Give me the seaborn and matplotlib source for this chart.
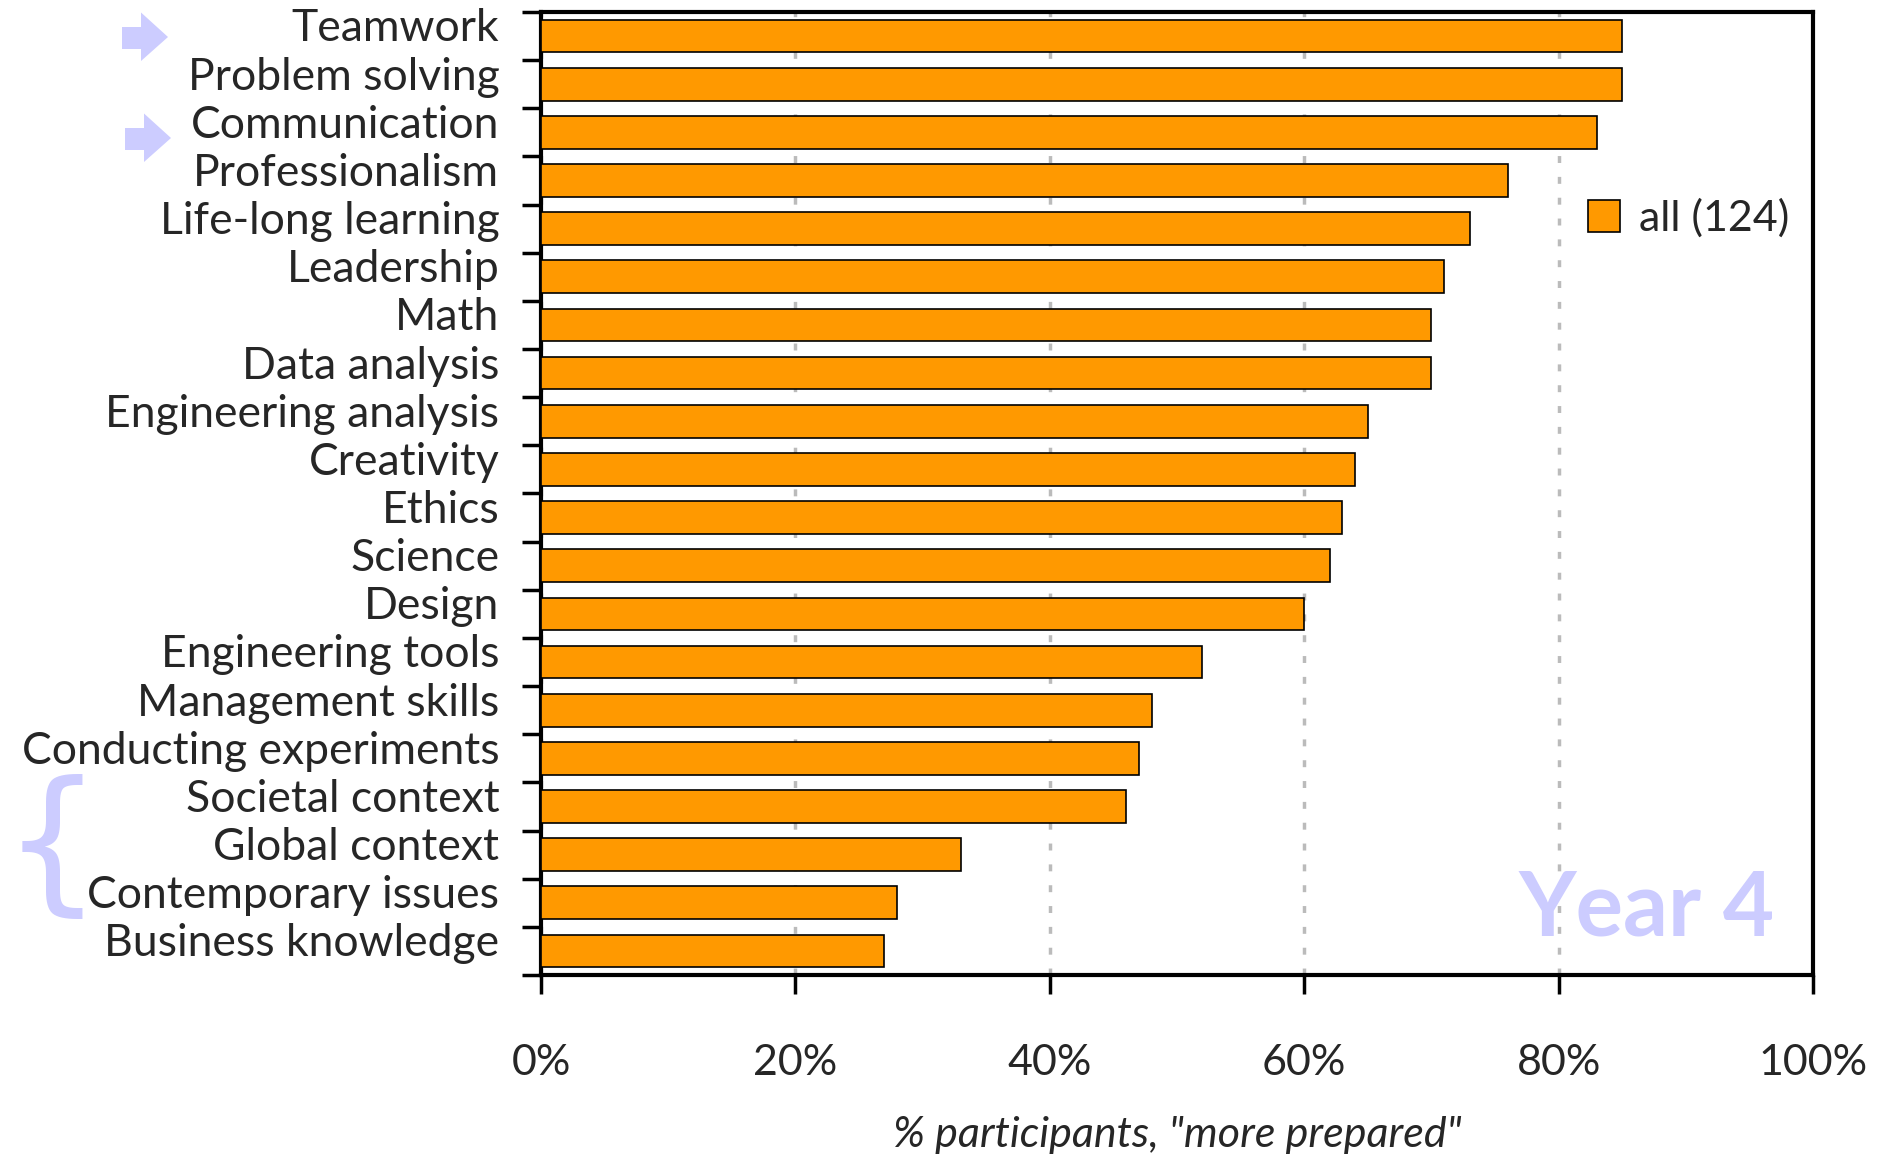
import matplotlib
matplotlib.use("Agg")
import matplotlib.pyplot as plt
import matplotlib.transforms as mtransforms
from matplotlib.patches import Polygon
import pandas as pd
import seaborn as sns

# values (% participants, "more prepared")
SKILLS = [
    "Teamwork", "Problem solving", "Communication", "Professionalism",
    "Life-long learning", "Leadership", "Math", "Data analysis",
    "Engineering analysis", "Creativity", "Ethics", "Science", "Design",
    "Engineering tools", "Management skills", "Conducting experiments",
    "Societal context", "Global context", "Contemporary issues",
    "Business knowledge",
]
PCT_MORE_PREPARED = [85, 85, 83, 76, 73, 71, 70, 70, 65, 64, 63, 62, 60,
                     52, 48, 47, 46, 33, 28, 27]
GROUP_LABEL = "all (124)"
X_TICKS = [0, 20, 40, 60, 80, 100]
X_TICK_LABELS = ["0%", "20%", "40%", "60%", "80%", "100%"]

BAR_COLOR = "#FF9900"
ACCENT = "#CCCCFF"

W, H = 1877, 1158

sns.set_style("white")
plt.rcParams["font.family"] = ["Lato", "DejaVu Sans"]

df = pd.DataFrame({"skill": SKILLS, "pct": PCT_MORE_PREPARED,
                   "group": GROUP_LABEL})

fig = plt.figure(figsize=(W / 100, H / 100), dpi=100)
ax = fig.add_axes([541 / W, 1 - 975 / H, 1272 / W, 963 / H])

sns.barplot(data=df, x="pct", y="skill", hue="group", orient="h",
            palette=[BAR_COLOR], saturation=1, edgecolor="black",
            linewidth=1.2, width=0.68, ax=ax, zorder=3)

ax.set_xlim(0, 100)
ax.set_ylim(len(SKILLS) - 0.5, -0.5)

# dashed vertical gridlines
ax.set_axisbelow(True)
ax.xaxis.grid(True, linestyle=(0, (2, 4)), color="#BBBBBB", linewidth=2.5)
ax.yaxis.grid(False)

for side in ["left", "right", "top", "bottom"]:
    ax.spines[side].set_visible(True)
    ax.spines[side].set_color("black")
    ax.spines[side].set_linewidth(3)

# x ticks
ax.set_xticks(X_TICKS)
ax.set_xticklabels(X_TICK_LABELS, fontsize=31)
ax.tick_params(axis="x", direction="out", length=14, width=2.5, pad=36,
               bottom=True, color="black")

# y ticks: labels at centres, tick marks at category boundaries
ax.set_yticks(range(len(SKILLS)))
ax.set_yticklabels(SKILLS, fontsize=32)
ax.set_yticks([i - 0.5 for i in range(len(SKILLS) + 1)], minor=True)
ax.tick_params(axis="y", which="major", length=0, pad=30)
ax.tick_params(axis="y", which="minor", direction="out", length=14,
               width=2.5, left=True, color="black")
shift_up = mtransforms.ScaledTranslation(0, 8 / 72, fig.dpi_scale_trans)
for lab in ax.get_yticklabels():
    lab.set_transform(lab.get_transform() + shift_up)

ax.set_ylabel("")
ax.set_xlabel('% participants, "more prepared"', fontsize=31,
              fontstyle="italic", labelpad=24)

# legend
handles, labels = ax.get_legend_handles_labels()
ax.legend(handles, labels, loc="center left", bbox_to_anchor=(0.806, 0.786),
          frameon=False, fontsize=31, handlelength=0.75, handleheight=0.75,
          handletextpad=0.45, borderpad=0)

# watermark
ax.text(0.970, 0.0415, "Year 4", transform=ax.transAxes, ha="right",
        va="baseline", fontsize=64, fontweight="bold", color=ACCENT)

# arrows next to Teamwork and Communication
def arrow(x0, y0):
    pts = [(x0, y0 + 14.5), (x0 + 19, y0 + 14.5), (x0 + 19, y0),
           (x0 + 46, y0 + 24.5), (x0 + 19, y0 + 48.5), (x0 + 19, y0 + 36.5),
           (x0, y0 + 36.5)]
    pts = [(x / W, 1 - y / H) for x, y in pts]
    fig.add_artist(Polygon(pts, closed=True, transform=fig.transFigure,
                           facecolor=ACCENT, edgecolor="none"))

arrow(122, 12.5)
arrow(125, 113.5)

# brace grouping the context items
fig.text(52 / W, 1 - 850 / H, "{", ha="center", va="center", fontsize=112,
         color=ACCENT, family="DejaVu Sans")

fig.savefig("out.png", dpi=100)
